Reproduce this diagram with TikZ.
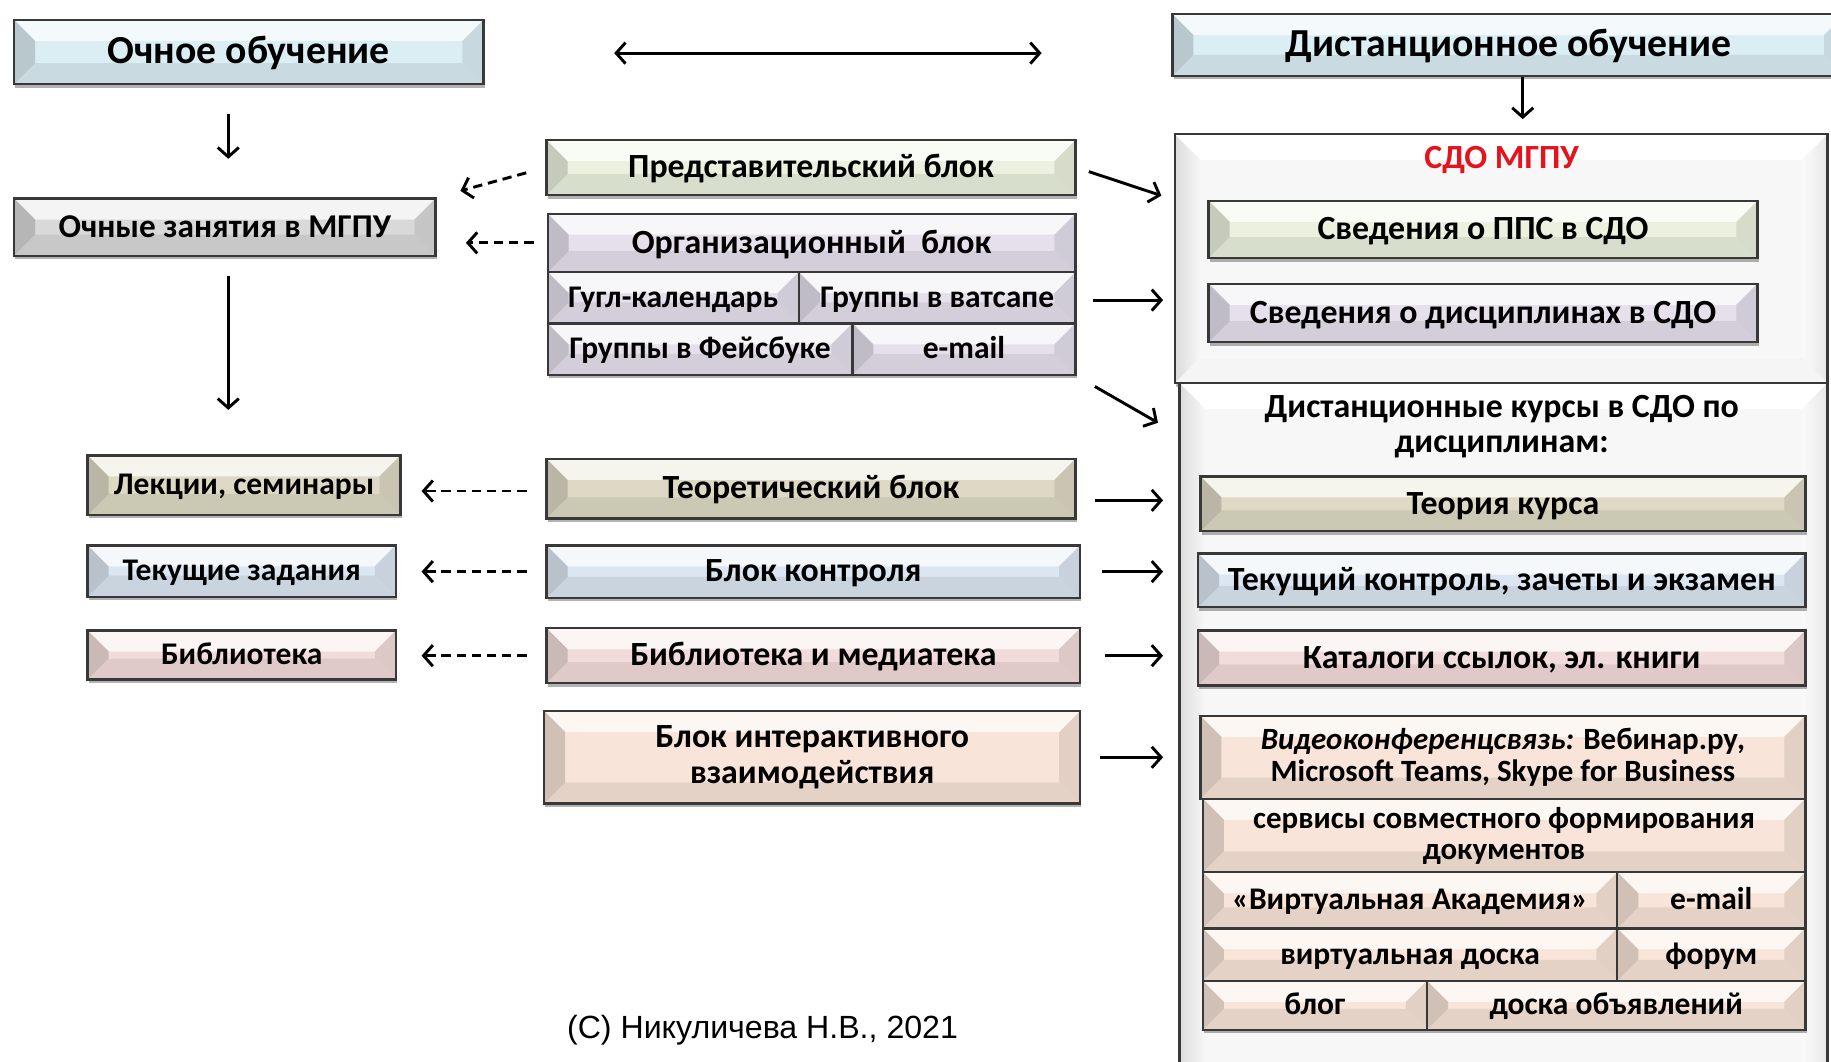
\documentclass[tikz,border=0pt]{standalone}
\usepackage{fontspec}
\setmainfont{Carlito}
\newfontfamily\arialf{Liberation Sans}
\usetikzlibrary{calc,shadows,arrows.meta}

\definecolor{cBlue}{HTML}{DBEEF4}
\definecolor{cGray}{HTML}{D9D9D9}
\definecolor{cGreen}{HTML}{EBF1DE}
\definecolor{cLav}{HTML}{E5E0EC}
\definecolor{cKhaki}{HTML}{DDD9C4}
\definecolor{cSky}{HTML}{DCE6F2}
\definecolor{cPink}{HTML}{F2DCDB}
\definecolor{cPeach}{HTML}{F8E4D8}
\definecolor{cRed}{HTML}{E3141E}

\tikzset{
  bev/.style={draw=black!78, line width=2pt, fill=#1, inner sep=0pt, align=center,
    font=\bfseries\fontsize{29}{31}\selectfont, text height=18pt, text depth=0.5pt,
    drop shadow={shadow xshift=1pt, shadow yshift=-3pt, opacity=.3, fill=black},
    path picture={
      \fill[#1!30!white] let \p1=(path picture bounding box.south west), \p2=(path picture bounding box.north east), \n1={min(18pt,0.5*(\y2-\y1))} in (\x1,\y2) -- (\x2,\y2) -- (\x2-\n1,\y2-\n1) -- (\x1+\n1,\y2-\n1) -- cycle;
      \fill[#1!92!black] let \p1=(path picture bounding box.south west), \p2=(path picture bounding box.north east), \n1={min(18pt,0.5*(\y2-\y1))} in (\x1,\y1) -- (\x2,\y1) -- (\x2-\n1,\y1+\n1) -- (\x1+\n1,\y1+\n1) -- cycle;
      \fill[#1!84!black] let \p1=(path picture bounding box.south west), \p2=(path picture bounding box.north east), \n1={min(18pt,0.5*(\y2-\y1))} in (\x1,\y1) -- (\x1,\y2) -- (\x1+\n1,\y2-\n1) -- (\x1+\n1,\y1+\n1) -- cycle;
      \fill[#1!91!black] let \p1=(path picture bounding box.south west), \p2=(path picture bounding box.north east), \n1={min(18pt,0.5*(\y2-\y1))} in (\x2,\y1) -- (\x2,\y2) -- (\x2-\n1,\y2-\n1) -- (\x2-\n1,\y1+\n1) -- cycle;
    }},
  frm/.style={draw=black!78, line width=2pt, fill=white, inner sep=0pt,
    drop shadow={shadow xshift=1pt, shadow yshift=-3pt, opacity=.25, fill=black},
    path picture={
      \fill[black!4] let \p1=(path picture bounding box.south west), \p2=(path picture bounding box.north east) in (\x1,\y1) -- (\x2,\y1) -- (\x2-22pt,\y1+22pt) -- (\x1+22pt,\y1+22pt) -- cycle;
      \fill[left color=black!14, right color=black!3] let \p1=(path picture bounding box.south west), \p2=(path picture bounding box.north east) in (\x1,\y1) -- (\x1,\y2) -- (\x1+22pt,\y2-22pt) -- (\x1+22pt,\y1+22pt) -- cycle;
      \fill[left color=black!2, right color=black!9] let \p1=(path picture bounding box.south west), \p2=(path picture bounding box.north east) in (\x2,\y1) -- (\x2,\y2) -- (\x2-22pt,\y2-22pt) -- (\x2-22pt,\y1+22pt) -- cycle;
      \fill[black!3] let \p1=(path picture bounding box.south west), \p2=(path picture bounding box.north east) in (\x1+22pt,\y1+22pt) rectangle (\x2-22pt,\y2-22pt);
    }},
  ml/.style={text height={}, text depth={}},
  big/.style={font=\bfseries\fontsize{34}{38}\selectfont, text height=21pt, text depth=0.5pt},
  zfont/.style={font=\bfseries\fontsize{28.5}{31}\selectfont, text height=18pt, text depth=0.6pt},
  mid/.style={font=\bfseries\fontsize{27}{29}\selectfont, text height=17pt, text depth=0.8pt},
  arr/.style={line width=2.5pt, -{Straight Barb[length=8pt,width=18pt]}},
  darr/.style={arr, dash pattern=on 8pt off 5pt},
  darr2/.style={line width=2.5pt, {Straight Barb[length=8pt,width=18pt]}-{Straight Barb[length=8pt,width=18pt]}},
}

\newcommand\bx[8][]{\node[bev=#7, minimum width={(#5-#3)*1pt}, minimum height={(#6-#4)*1pt}, #1] (#2) at ({(#3+#5)/2},{(#4+#6)/2}) {#8};}
\newcommand\fr[5]{\node[frm, minimum width={(#4-#2)*1pt}, minimum height={(#5-#3)*1pt}] (#1) at ({(#2+#4)/2},{(#3+#5)/2}) {};}

\begin{document}
\begin{tikzpicture}[x=1pt,y=-1pt]
\useasboundingbox (0,0) rectangle (1568,909);
\clip (0,0) rectangle (1568,909);
\fill[white] (0,0) rectangle (1568,909);

% headers
\bx[big]{ochn}{12}{17}{414}{72}{cBlue}{Очное обучение}
\bx[big]{dist}{1004}{12}{1580}{65}{cBlue}{Дистанционное обучение}
\bx[zfont]{zan}{12}{170}{373}{219}{cGray}{Очные занятия в МГПУ}

% middle column
\bx{pred}{468}{120}{921}{167}{cGreen}{Представительский блок}
\bx{org}{469}{183}{921}{233}{cLav}{Организационный\ \ блок}
\bx[mid]{gk}{469}{233}{684}{277}{cLav}{Гугл-календарь}
\bx[mid]{gv}{684}{233}{921}{277}{cLav}{Группы в ватсапе}
\bx[mid]{gf}{469}{277}{730}{321}{cLav}{Группы в Фейсбуке}
\bx[mid]{em}{730}{277}{921}{321}{cLav}{e-mail}
\bx{teor}{468}{393}{921}{444}{cKhaki}{Теоретический блок}
\bx{kon}{468}{467}{925}{512}{cSky}{Блок контроля}
\bx{bm}{468}{538}{925}{585}{cPink}{Библиотека и медиатека}
\bx[ml]{bi}{466}{609}{925}{688}{cPeach}{Блок интерактивного\\взаимодействия}

% left column
\bx[mid]{lek}{75}{390}{343}{441}{cKhaki}{Лекции, семинары}
\bx[mid]{tz}{75}{467}{339}{511}{cSky}{Текущие задания}
\bx[mid]{bib}{75}{540}{339}{582}{cPink}{Библиотека}

% right containers
\fr{sdo}{1006}{115}{1565}{328}
\node[font=\bfseries\fontsize{29}{31}\selectfont, text=cRed] (sdot) at (1286,137) {СДО МГПУ};
\bx{pps}{1035}{172}{1505}{221}{cGreen}{Сведения о ППС в СДО}
\bx{dsc}{1035}{243}{1505}{293}{cLav}{Сведения о дисциплинах в СДО}

\fr{kur}{1010}{328}{1565}{960}
\node[font=\bfseries\fontsize{29}{30}\selectfont, align=center] (kurt) at (1286,365) {Дистанционные курсы в СДО по\\дисциплинам:};
\bx{tk}{1028}{408}{1546}{455}{cKhaki}{Теория курса}
\bx{tkk}{1026}{474}{1546}{520}{cSky}{Текущий контроль, зачеты и экзамен}
\bx{kat}{1026}{540}{1546}{587}{cPink}{Каталоги ссылок, эл. книги}
\bx[ml,font=\bfseries\fontsize{26.5}{27.5}\selectfont]{vid}{1028}{613}{1546}{684}{cPeach}{\textit{Видеоконференцсвязь:} Вебинар.ру,\\Microsoft Teams, Skype for Business}
\bx[ml,font=\bfseries\fontsize{26.5}{26.5}\selectfont]{serv}{1030}{684}{1546}{747}{cPeach}{сервисы совместного формирования\\документов}
\bx[mid]{va}{1030}{747}{1385}{795}{cPeach}{«Виртуальная Академия»}
\bx[mid]{em2}{1385}{747}{1546}{795}{cPeach}{e-mail}
\bx[mid]{vd}{1030}{795}{1385}{840}{cPeach}{виртуальная доска}
\bx[mid]{fo}{1385}{795}{1546}{840}{cPeach}{форум}
\bx[mid]{bl}{1030}{840}{1222}{882}{cPeach}{блог}
\bx[mid]{do}{1222}{840}{1546}{882}{cPeach}{доска объявлений}

\node[font=\arialf\fontsize{27.5}{30}\selectfont] (foot) at (653,882) {(C) Никуличева Н.В., 2021};

% connectors
\draw[darr2, shorten <=111pt, shorten >=111pt] ([yshift=-1pt]ochn.east) -- ([yshift=-1pt]ochn.east -| dist.west);
\draw[arr, shorten <=25pt, shorten >=33pt] ([xshift=3pt]ochn.south -| zan.north) -- ([xshift=3pt]zan.north);
\draw[arr, shorten <=16pt, shorten >=38pt] ([xshift=3pt]zan.south) -- ([xshift=3pt]zan.south |- lek.north);
\draw[arr, shorten >=12pt] ([xshift=12pt]dist.south) -- ([xshift=12pt]dist.south |- sdo.north);

\draw[darr, shorten <=17pt, shorten >=21pt] (pred.west) -- (zan.north east);
\draw[darr, shorten <=11pt, shorten >=25pt] (org.west) -- (org.west -| zan.east);
\draw[darr, shorten <=16pt, shorten >=17pt] ([yshift=-2pt]teor.west) -- ([yshift=-2pt]teor.west -| lek.east);
\draw[darr, shorten <=16pt, shorten >=21pt] (kon.west) -- (kon.west -| tz.east);
\draw[darr, shorten <=16pt, shorten >=21pt] (bm.west) -- (bm.west -| bib.east);

\draw[arr, shorten <=11pt, shorten >=11pt] (pred.east) -- ($(sdo.north west)+(0,57)$);
\draw[arr, shorten <=14pt, shorten >=9pt] ([yshift=-2pt]gv.east) -- ([yshift=-2pt]gv.east -| sdo.west);
\draw[arr, shorten <=18pt, shorten >=20pt] (em.south east) -- ($(kur.north west)+(0,45)$);
\draw[arr, shorten <=16pt, shorten >=13pt] ([yshift=3pt]teor.east |- tk.west) -- ([yshift=3pt]tk.west -| kur.west);
\draw[arr, shorten <=18pt, shorten >=13pt] (kon.east) -- (kon.east -| kur.west);
\draw[arr, shorten <=20pt, shorten >=13pt] (bm.east) -- (bm.east -| kur.west);
\draw[arr, shorten <=16pt, shorten >=13pt] (bi.east) -- (bi.east -| kur.west);
\end{tikzpicture}
\end{document}
